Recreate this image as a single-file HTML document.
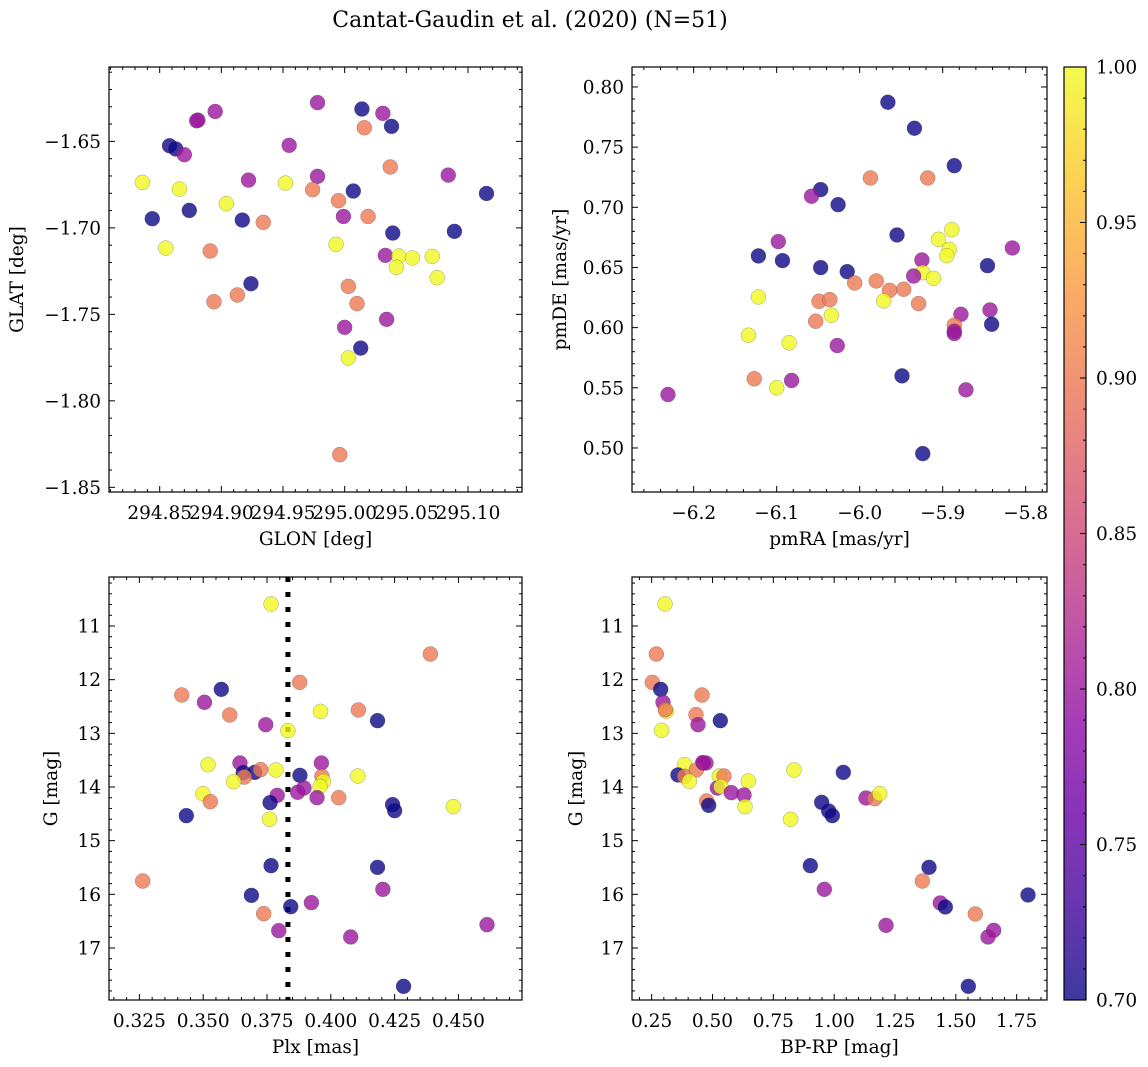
<!DOCTYPE html>
<html><head><meta charset="utf-8"><style>
html,body{margin:0;padding:0;background:#fff;}
svg{display:block;font-family:"DejaVu Serif","Liberation Serif",serif;}
</style></head><body>
<svg id="fig" width="1148" height="1067" viewBox="0 0 1148 1067" xmlns="http://www.w3.org/2000/svg">
<text x="530" y="27" font-size="22" text-anchor="middle">Cantat-Gaudin et al. (2020) (N=51)</text>
</svg>
<script>
// ---- data ----
const glon = [294.978,295.014,295.031,295.016,295.038,294.881,294.895,294.858,294.863,294.870,294.955,295.037,295.084,294.836,294.866,294.922,294.952,294.978,294.974,295.007,295.115,294.995,294.904,294.874,294.844,294.917,294.934,294.999,295.019,295.039,295.089,294.993,294.855,294.891,295.033,295.044,295.055,295.071,295.042,295.075,294.924,295.003,294.913,294.894,295.010,295.034,295.000,295.013,295.003,294.996,294.880];
const glat = [-1.6276,-1.6313,-1.6338,-1.6421,-1.6413,-1.6377,-1.6327,-1.6525,-1.6544,-1.6577,-1.6523,-1.6648,-1.6695,-1.6737,-1.6776,-1.6724,-1.6741,-1.6702,-1.6779,-1.6787,-1.6801,-1.6843,-1.6860,-1.6899,-1.6947,-1.6955,-1.6968,-1.6934,-1.6934,-1.7030,-1.7020,-1.7095,-1.7117,-1.7134,-1.7159,-1.7163,-1.7174,-1.7165,-1.7228,-1.7288,-1.7323,-1.7338,-1.7388,-1.7427,-1.7438,-1.7529,-1.7575,-1.7695,-1.7752,-1.8311,-1.6381];
const probA = [0.80,0.70,0.80,0.90,0.70,0.80,0.80,0.70,0.70,0.80,0.80,0.90,0.80,1.00,1.00,0.80,1.00,0.80,0.90,0.70,0.70,0.90,1.00,0.70,0.70,0.70,0.90,0.80,0.90,0.70,0.70,1.00,1.00,0.90,0.80,1.00,1.00,1.00,1.00,1.00,0.70,0.90,0.90,0.90,0.90,0.80,0.80,0.70,1.00,0.90,0.80];

const pmra = [-5.966,-5.934,-5.886,-5.987,-5.918,-6.047,-6.058,-6.026,-5.889,-5.955,-5.905,-6.098,-5.892,-5.895,-5.816,-6.122,-6.093,-5.925,-6.047,-5.846,-6.015,-5.924,-5.935,-5.911,-6.006,-5.980,-5.964,-5.947,-6.122,-6.049,-6.036,-5.971,-5.929,-6.034,-5.878,-5.843,-6.053,-5.886,-5.886,-5.841,-6.134,-6.085,-6.027,-5.949,-6.127,-6.082,-6.100,-5.872,-6.231,-5.924,-5.886];
const pmde = [0.7873,0.7657,0.7346,0.7244,0.7244,0.7147,0.7092,0.7022,0.6814,0.6770,0.6734,0.6715,0.6651,0.6598,0.6662,0.6596,0.6557,0.6562,0.6499,0.6515,0.6465,0.6457,0.6429,0.6410,0.6371,0.6388,0.6310,0.6319,0.6255,0.6219,0.6233,0.6222,0.6200,0.6103,0.6111,0.6147,0.6053,0.6020,0.5951,0.6028,0.5937,0.5874,0.5851,0.5599,0.5575,0.5561,0.5500,0.5483,0.5444,0.4953,0.5970];
const probB = [0.70,0.70,0.70,0.90,0.90,0.70,0.80,0.70,1.00,0.70,1.00,0.80,1.00,1.00,0.80,0.70,0.70,0.80,0.70,0.70,0.70,1.00,0.80,1.00,0.90,0.90,0.90,0.90,1.00,0.90,0.90,1.00,0.90,1.00,0.80,0.80,0.90,0.90,0.80,0.70,1.00,1.00,0.80,0.70,0.90,0.80,1.00,0.80,0.80,0.70,0.80];

const plx = [0.3766,0.4390,0.3878,0.3571,0.3416,0.3505,0.3960,0.4108,0.3604,0.4183,0.3745,0.3832,0.3519,0.3644,0.3963,0.3657,0.3702,0.3725,0.3785,0.3879,0.4106,0.3661,0.3965,0.3619,0.3971,0.3958,0.3895,0.3870,0.3790,0.3946,0.4031,0.3499,0.3528,0.3762,0.4242,0.4250,0.4480,0.3434,0.3760,0.3766,0.4183,0.3263,0.4204,0.3689,0.3843,0.3924,0.3737,0.3796,0.4078,0.4612,0.4285];
const gmagC = [10.590,11.522,12.050,12.180,12.286,12.422,12.590,12.565,12.658,12.764,12.839,12.950,13.584,13.553,13.553,13.733,13.727,13.677,13.683,13.783,13.795,13.814,13.801,13.901,13.894,13.988,14.019,14.099,14.155,14.199,14.199,14.124,14.273,14.292,14.329,14.441,14.366,14.534,14.602,15.466,15.497,15.752,15.907,16.019,16.230,16.155,16.360,16.677,16.795,16.565,17.714];
const probC = [1.00,0.90,0.90,0.70,0.90,0.80,1.00,0.90,0.90,0.70,0.80,1.00,1.00,0.80,0.80,0.70,0.70,0.90,1.00,0.70,1.00,0.90,0.90,1.00,1.00,1.00,0.80,0.80,0.80,0.80,0.90,1.00,0.90,0.70,0.70,0.70,1.00,0.70,1.00,0.70,0.70,0.90,0.80,0.70,0.70,0.80,0.90,0.80,0.80,0.80,0.70];
const plxMean = 0.3832;

const bprp = [0.3048,0.2692,0.2527,0.2870,0.4569,0.2966,0.3103,0.4322,0.5322,0.4404,0.2911,0.3856,0.4596,0.4733,0.8349,1.0377,0.3582,0.3856,0.4336,0.4048,0.5281,0.5473,0.6473,0.5199,0.5349,0.5774,0.6295,0.4760,0.4843,0.6336,0.9486,0.9774,0.9925,0.8212,1.1308,1.1665,1.1870,0.9021,1.3898,1.3624,0.9596,1.4363,1.4569,1.7966,1.5802,1.2130,1.6555,1.6322,1.5514,0.3062,0.4623];
const gmagD = [10.590,11.522,12.050,12.180,12.286,12.422,12.590,12.652,12.764,12.839,12.944,13.584,13.547,13.553,13.683,13.727,13.776,13.801,13.683,13.894,13.795,13.795,13.888,14.019,13.994,14.106,14.149,14.261,14.342,14.366,14.286,14.447,14.534,14.602,14.205,14.217,14.124,15.466,15.497,15.752,15.907,16.161,16.236,16.012,16.366,16.578,16.671,16.795,17.714,12.559,13.553];
const probD = [1.00,0.90,0.90,0.70,0.90,0.80,1.00,0.90,0.70,0.80,1.00,1.00,0.80,0.80,1.00,0.70,0.70,0.90,0.90,1.00,1.00,0.90,1.00,0.80,1.00,0.80,0.80,0.90,0.70,1.00,0.70,0.70,0.70,1.00,0.80,0.90,1.00,0.70,0.70,0.90,0.80,0.80,0.70,0.70,0.90,0.80,0.80,0.80,0.70,0.90,0.80];

const xTicksA=[294.85,294.90,294.95,295.00,295.05,295.10], yTicksA=[-1.65,-1.70,-1.75,-1.80,-1.85];
const xTicksB=[-6.2,-6.1,-6.0,-5.9,-5.8], yTicksB=[0.80,0.75,0.70,0.65,0.60,0.55,0.50];
const xTicksC=[0.325,0.350,0.375,0.400,0.425,0.450], yTicksG=[11,12,13,14,15,16,17];
const xTicksD=[0.25,0.50,0.75,1.00,1.25,1.50,1.75];
const cbTicks=[0.70,0.75,0.80,0.85,0.90,0.95,1.00];

// ---- drawing ----
const NS="http://www.w3.org/2000/svg";
const svg=document.getElementById('fig');
const FS=18.5;
const plasma=[[13,8,135],[65,4,157],[106,0,168],[143,13,164],[177,42,144],[204,71,120],[225,100,98],[242,132,75],[252,166,54],[252,206,37],[240,249,33]];
function cmap(v){
  let t=Math.max(0,Math.min(1,(v-0.7)/0.3))*10;
  let i=Math.min(9,Math.floor(t)), f=t-i;
  const a=plasma[i], b=plasma[i+1];
  return 'rgb('+[0,1,2].map(k=>Math.round(a[k]+(b[k]-a[k])*f)).join(',')+')';
}
function el(tag,attrs,parent){const e=document.createElementNS(NS,tag);for(const k in attrs)e.setAttribute(k,attrs[k]);(parent||svg).appendChild(e);return e;}
function fmt(v,d){return (v<0?'\u2212':'')+Math.abs(v).toFixed(d);}

function panel(o){
  const g=el('g',{});
  
  
  const sx=v=>o.x0+(v-o.xmin)/(o.xmax-o.xmin)*(o.x1-o.x0);
  const sy=o.yinv? (v=>o.y0+(v-o.ymin)/(o.ymax-o.ymin)*(o.y1-o.y0)) : (v=>o.y1-(v-o.ymin)/(o.ymax-o.ymin)*(o.y1-o.y0));
  const tg=el('g',{stroke:'#000','stroke-width':1},g);
  const xs=o.xt[1]-o.xt[0], ys=o.yt[1]-o.yt[0];
  for(let k=-10;k<60;k++){
    const v=o.xt[0]+k*xs/5; if(v<Math.min(o.xmin,o.xmax)||v>Math.max(o.xmin,o.xmax))continue;
    const X=sx(v), L=(k%5===0)?6:3;
    el('line',{x1:X,x2:X,y1:o.y1,y2:o.y1-L},tg); el('line',{x1:X,x2:X,y1:o.y0,y2:o.y0+L},tg);
  }
  for(let k=-10;k<60;k++){
    const v=o.yt[0]+k*ys/5; if(v<Math.min(o.ymin,o.ymax)||v>Math.max(o.ymin,o.ymax))continue;
    const Y=sy(v), L=(k%5===0)?6:3;
    el('line',{x1:o.x0,x2:o.x0+L,y1:Y,y2:Y},tg); el('line',{x1:o.x1,x2:o.x1-L,y1:Y,y2:Y},tg);
  }
  o.xt.forEach(v=>{const t=el('text',{x:sx(v),y:o.y1+27,'font-size':FS,'text-anchor':'middle'},g);t.textContent=fmt(v,o.xd);
    
    });
  o.yt.forEach(v=>{const t=el('text',{x:o.x0-8,y:sy(v)+6.5,'font-size':FS,'text-anchor':'end'},g);t.textContent=fmt(v,o.yd);
    
    });
  const xl=el('text',{x:(o.x0+o.x1)/2,y:o.y1+53,'font-size':FS,'text-anchor':'middle'},g);xl.textContent=o.xlab;
  
  
  const yl=el('text',{x:0,y:0,'font-size':FS,'text-anchor':'middle',transform:'translate('+o.ylx+','+((o.y0+o.y1)/2)+') rotate(-90)'},g);yl.textContent=o.ylab;
  
  
  if(o.vline!==undefined){
    const ln=el('line',{x1:sx(o.vline),x2:sx(o.vline),y1:o.y0,y2:o.y1,stroke:'#000','stroke-width':5,'stroke-dasharray':'5 10'},g);
    
    
  }
  for(let i=0;i<o.xs.length;i++){
    const c=el('circle',{cx:sx(o.xs[i]),cy:sy(o.ys[i]),r:7.5,fill:cmap(o.cs[i]),'fill-opacity':0.8,stroke:'rgba(60,60,60,0.45)','stroke-width':0.5},g);
    
    
  }
  const fr=el('rect',{x:o.x0,y:o.y0,width:o.x1-o.x0,height:o.y1-o.y0,fill:'none',stroke:'#000','stroke-width':1.2},g);
  
  
}

panel({name:'glon-glat-panel',x0:109,x1:522,y0:67,y1:492,xmin:294.8089,xmax:295.1438,ymin:-1.8527,ymax:-1.607,xt:xTicksA,yt:yTicksA,xd:2,yd:2,xlab:'GLON [deg]',ylab:'GLAT [deg]',ylx:23,xs:glon,ys:glat,cs:probA});
panel({name:'proper-motion-panel',x0:632,x1:1047,y0:67,y1:492,xmin:-6.2743,xmax:-5.7743,ymin:0.4634,ymax:0.8166,xt:xTicksB,yt:yTicksB,xd:1,yd:2,xlab:'pmRA [mas/yr]',ylab:'pmDE [mas/yr]',ylx:566,xs:pmra,ys:pmde,cs:probB});
panel({name:'parallax-panel',x0:109,x1:522,y0:577,y1:1000,xmin:0.3131,xmax:0.4749,ymin:10.087,ymax:17.969,yinv:true,xt:xTicksC,yt:yTicksG,xd:3,yd:0,xlab:'Plx [mas]',ylab:'G [mag]',ylx:57,xs:plx,ys:gmagC,cs:probC,vline:plxMean});
panel({name:'cmd-panel',x0:632,x1:1047,y0:577,y1:1000,xmin:0.1692,xmax:1.8747,ymin:10.087,ymax:17.969,yinv:true,xt:xTicksD,yt:yTicksG,xd:2,yd:0,xlab:'BP-RP [mag]',ylab:'G [mag]',ylx:582,xs:bprp,ys:gmagD,cs:probD});

// colorbar
(function(){
  const g=el('g',{});
  
  
  const defs=el('defs',{},g);
  const lg=el('linearGradient',{id:'cbg',x1:0,y1:1,x2:0,y2:0},defs);
  plasma.forEach((c,i)=>el('stop',{offset:i/10,'stop-color':'rgb('+c.join(',')+')','stop-opacity':0.8},lg));
  const x0=1064,x1=1086,y0=67,y1=1000;
  el('rect',{x:x0,y:y0,width:x1-x0,height:y1-y0,fill:'url(#cbg)'},g);
  const sy=v=>y1-(v-0.7)/0.3*(y1-y0);
  for(let k=0;k<=30;k++){const v=0.7+k*0.01,Y=sy(v),L=(k%5===0)?6:3;el('line',{x1:x1,x2:x1-L,y1:Y,y2:Y,stroke:'#000'},g);}
  cbTicks.forEach(v=>{const t=el('text',{x:x1+10,y:sy(v)+6.5,'font-size':FS},g);t.textContent=v.toFixed(2);
    
    });
  el('rect',{x:x0,y:y0,width:x1-x0,height:y1-y0,fill:'none',stroke:'#000','stroke-width':1.2},g);
})();
</script>
</body></html>
